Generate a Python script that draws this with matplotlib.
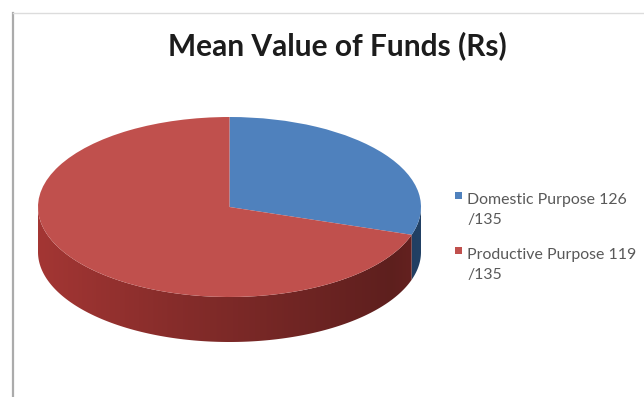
import numpy as np
import matplotlib
matplotlib.use("Agg")
import matplotlib.pyplot as plt
from matplotlib.patches import Polygon, Rectangle
from matplotlib.lines import Line2D
from matplotlib.colors import to_rgb

# data
categories = ["Domestic Purpose 126\n/135", "Productive Purpose 119\n/135"]
shares = [30, 70]
top_colors = ["#4f81bd", "#c0504d"]
side_colors = ["#2f5a8c", "#8e2f2d"]
title = "Mean Value of Funds (Rs)"

W, H = 644, 397
fig = plt.figure(figsize=(W / 100, H / 100), dpi=100)
fig.patch.set_facecolor("white")


def fx(px):
    return px / W


def fy(py):
    return 1 - py / H


# chart frame edges (left and top)
fig.add_artist(Line2D([fx(13), fx(13)], [fy(13), 0], color="#ababab", lw=1.6))
fig.add_artist(Line2D([fx(13), 1], [fy(13), fy(13)], color="#dcdcdc", lw=1.0))

fig.text(fx(337), fy(46), title, ha="center", va="center",
         fontsize=21.5, fontweight="bold", family="Lato", color="#1c1c1c")

# pie: unit circle squashed vertically, side wall of height `depth`
depth = 0.5
left, right, top, bottom = 38, 421, 117, 342
ax = fig.add_axes([fx(left), fy(bottom), (right - left) / W, (bottom - top) / H])
ax.axis("off")

wedges, _ = ax.pie(shares, colors=top_colors, startangle=90, counterclock=False,
                   radius=1, wedgeprops=dict(linewidth=0))
for w in wedges:
    w.set_zorder(3)
    w.set_clip_on(False)

# horizontal shading of the wall: lighter on the left, darkest near the right
xs = np.linspace(-1, 1, 400)
shade = np.interp(xs, [-1, -0.3, 0.4, 0.85, 1], [1.15, 0.95, 0.78, 0.66, 0.72])

fracs = np.array(shares, dtype=float) / sum(shares)
start = 90.0
for frac, base in zip(fracs, side_colors):
    end = start - 360 * frac
    # only the front half of the wall (180..360 deg) is visible
    ts = np.linspace(end, start, 400)
    ts = np.array([t for t in ts if 180 <= t % 360 <= 360 or np.isclose(t % 360, 0)])
    if len(ts) >= 2:
        ts = np.unwrap(np.radians(ts))
        top_arc = np.column_stack([np.cos(ts), np.sin(ts)])
        bot_arc = top_arc[::-1] - [0, depth]
        wall = Polygon(np.vstack([top_arc, bot_arc]), closed=True,
                       facecolor="none", edgecolor="none")
        ax.add_patch(wall)
        rgb = np.clip(np.outer(shade, to_rgb(base)), 0, 1)
        img = ax.imshow(rgb[np.newaxis, :, :], extent=(-1, 1, -1 - depth, 0),
                        aspect="auto", zorder=2, interpolation="bilinear")
        img.set_clip_path(wall)
    start = end

ax.set_xlim(-1, 1)
ax.set_ylim(-1 - depth, 1)
ax.set_aspect("auto")

# legend
legend_rows = [193, 248]
for label, color, y in zip(categories, top_colors, legend_rows):
    fig.add_artist(Rectangle((fx(455), fy(y + 5.5)), 7 / W, 7 / H,
                             facecolor=color, edgecolor="none"))
    fig.text(fx(467), fy(y), label, ha="left", va="top", fontsize=11.4,
             family="Lato", color="#595959", linespacing=1.55)

fig.savefig("out.png", dpi=100)
